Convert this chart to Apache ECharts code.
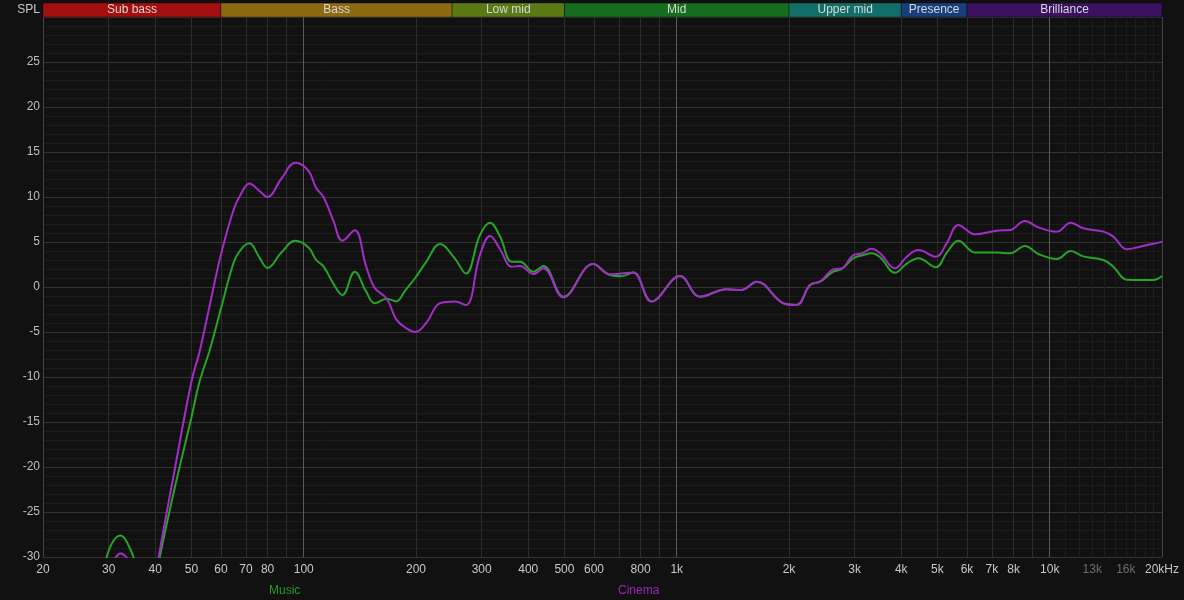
<!DOCTYPE html>
<html><head><meta charset="utf-8">
<script src="https://cdn.jsdelivr.net/npm/echarts@6/dist/echarts.min.js"></script>
<style>html,body{margin:0;padding:0;background:#111111;}#c{width:1184px;height:600px;}</style>
</head><body><div id="c"></div>
<script>
// Frequencies (Hz) shared by both measurements
const freqs = [25,29,30.5,32.3,34,35.5,38,41,45,50,52.5,56,60,65,68,71.5,76,80,87,95,103,108,113,120,127,137,147,155,167,177,187,199,213,232,254,272,297,316,336,361,380,413,439,497,597,662,710,765,857,1021,1154,1362,1493,1639,1931,2096,2277,2422,2630,2769,2975,3132,3332,3508,3849,4136,4450,4950,5295,5687,6305,7209,7826,8584,9320,10443,11384,12303,13925,14809,16087,17460,18960,20000];
// SPL (dB)
const music  = [-45,-31.5,-28.6,-27.6,-28.8,-31,-38,-30.3,-22.5,-14.5,-10.6,-7.0,-2.4,2.8,4.2,4.85,3.3,2.1,3.8,5.15,4.4,3.0,2.3,0.4,-0.9,1.7,-0.5,-1.8,-1.3,-1.6,-0.4,1.0,2.8,4.78,3.19,1.5,5.8,7.15,5.6,2.8,2.8,1.7,2.33,-1.07,2.55,1.33,1.2,1.6,-1.6,1.22,-1.07,-0.26,-0.33,0.59,-1.8,-2.0,0.22,0.59,1.7,2.0,3.19,3.5,3.74,3.3,1.59,2.6,3.19,2.19,3.8,5.15,3.82,3.82,3.74,4.56,3.67,3.1,4.0,3.4,3.0,2.26,0.8,0.78,0.78,1.22];
const cinema = [-45,-35,-31.2,-29.6,-30.5,-33,-38,-29.6,-20.5,-10.5,-7.3,-2.0,3.6,8.7,10.4,11.5,10.7,10.0,12.0,13.8,12.9,11.0,10.0,7.4,5.15,6.3,2.3,-0.1,-1.3,-3.6,-4.5,-5.0,-4.0,-1.8,-1.6,-2.0,3.6,5.67,4.2,2.26,2.33,1.44,2.07,-1.15,2.55,1.4,1.5,1.6,-1.6,1.22,-1.07,-0.26,-0.33,0.59,-1.8,-2.0,0.22,0.59,1.96,2.07,3.55,3.74,4.26,3.74,2.07,3.37,4.1,3.37,4.85,6.9,5.85,6.26,6.33,7.33,6.63,6.15,7.15,6.52,6.15,5.6,4.19,4.48,4.8,5.04];

// Frequency grid lines and their labels
const tickFreqs  = [20,30,40,50,60,70,80,90,100,200,300,400,500,600,700,800,900,1000,2000,3000,4000,5000,6000,7000,8000,9000,10000,11000,12000,13000,14000,15000,16000,17000,18000,19000,20000];
const tickLabels = ['20','30','40','50','60','70','80','','100','200','300','400','500','600','','800','','1k','2k','3k','4k','5k','6k','7k','8k','','10k','','','13k','','','16k','','','','20kHz'];
const decadeFreqs = [100,1000,10000];
const dimLabels = ['13k','16k'];

// Frequency bands
const bandNames  = ['Sub bass','Bass','Low mid','Mid','Upper mid','Presence','Brilliance'];
const bandEdges  = [20,60,250,500,2000,4000,6000,20000];
const bandColors = ['#a30f0f','#8b6a10','#5b7a16','#156e1f','#116f68','#173f7d','#3b1160'];

const FONT = '"Liberation Sans", Arial, sans-serif';
const chart = echarts.init(document.getElementById('c'), null, {renderer:'canvas'});

const gridLines = tickFreqs.map((f, i) => {
  let color = '#2c2c2c';
  if (decadeFreqs.includes(f)) color = '#5a5a5a';
  else if (f === 20 || f === 20000) color = '#444444';
  else if (f > 10000) color = '#1d1d1d';
  const lbl = tickLabels[i];
  return {
    xAxis: f,
    lineStyle: {color: color, width: 1, type: 'solid'},
    label: {
      show: lbl !== '',
      formatter: lbl,
      position: 'start',
      distance: 7,
      color: dimLabels.includes(lbl) ? '#6e6e6e' : '#c8c8c8',
      fontSize: 12,
      fontFamily: FONT
    }
  };
});

const option = {
  backgroundColor: '#111111',
  animation: false,
  textStyle: {fontFamily: FONT},
  grid: [
    {left: 43, right: 22, top: 17, bottom: 43, containLabel: false},
    {left: 43, right: 22, top: 3, height: 14, containLabel: false}
  ],
  xAxis: [
    {type: 'log', logBase: 10, min: 20, max: 20000, gridIndex: 0,
     axisLine: {show: false}, axisTick: {show: false}, axisLabel: {show: false}, splitLine: {show: false}},
    {type: 'log', logBase: 10, min: 20, max: 20000, gridIndex: 1, show: false}
  ],
  yAxis: [
    {type: 'value', min: -30, max: 30, interval: 5, gridIndex: 0,
     name: 'SPL', nameLocation: 'end', nameGap: 1,
     nameTextStyle: {color: '#c8c8c8', fontSize: 12, align: 'right', verticalAlign: 'bottom', padding: [0, 3, 0, 0], fontFamily: FONT},
     axisLine: {show: false}, axisTick: {show: false},
     axisLabel: {color: '#bdbdbd', fontSize: 12, margin: 3, fontFamily: FONT,
                 formatter: v => (v === 30 ? '' : String(v))},
     splitLine: {show: true, lineStyle: {color: '#333333', width: 1}},
     minorTick: {show: false, splitNumber: 5},
     minorSplitLine: {show: true, lineStyle: {color: '#1c1c1c', width: 1}}
    },
    {type: 'value', min: 0, max: 1, gridIndex: 1, show: false}
  ],
  legend: [
    {data: [{name: 'Music', textStyle: {color: '#249b24'}}], left: 259, top: 580,
     icon: 'rect', itemWidth: 0, itemHeight: 0, selectedMode: false,
     textStyle: {fontSize: 12, fontFamily: FONT}},
    {data: [{name: 'Cinema', textStyle: {color: '#9a27bd'}}], left: 608, top: 580,
     icon: 'rect', itemWidth: 0, itemHeight: 0, selectedMode: false,
     textStyle: {fontSize: 12, fontFamily: FONT}}
  ],
  series: [
    {type: 'line', name: 'gridlines', xAxisIndex: 0, yAxisIndex: 0, data: [], silent: true,
     markLine: {silent: true, symbol: ['none', 'none'], animation: false, z: 1, data: gridLines}},
    {type: 'line', name: 'bands', xAxisIndex: 1, yAxisIndex: 1, data: [], silent: true,
     markArea: {silent: true, animation: false,
       label: {show: true, position: 'inside', color: '#d6d6d6', fontSize: 12, fontFamily: FONT},
       data: bandNames.map((n, i) => [
         {name: n, xAxis: bandEdges[i], itemStyle: {color: bandColors[i], borderColor: 'rgba(0,0,0,0.35)', borderWidth: 1}},
         {xAxis: bandEdges[i + 1]}
       ])}},
    {type: 'line', name: 'Music', xAxisIndex: 0, yAxisIndex: 0, z: 3,
     data: freqs.map((f, i) => [f, music[i]]), smooth: 0.4, symbol: 'none', clip: true,
     lineStyle: {color: '#27a327', width: 2}, itemStyle: {color: '#27a327'}},
    {type: 'line', name: 'Cinema', xAxisIndex: 0, yAxisIndex: 0, z: 4,
     data: freqs.map((f, i) => [f, cinema[i]]), smooth: 0.4, symbol: 'none', clip: true,
     lineStyle: {color: '#a42cc8', width: 2}, itemStyle: {color: '#a42cc8'}}
  ]
};
chart.setOption(option);
</script>
</body></html>
